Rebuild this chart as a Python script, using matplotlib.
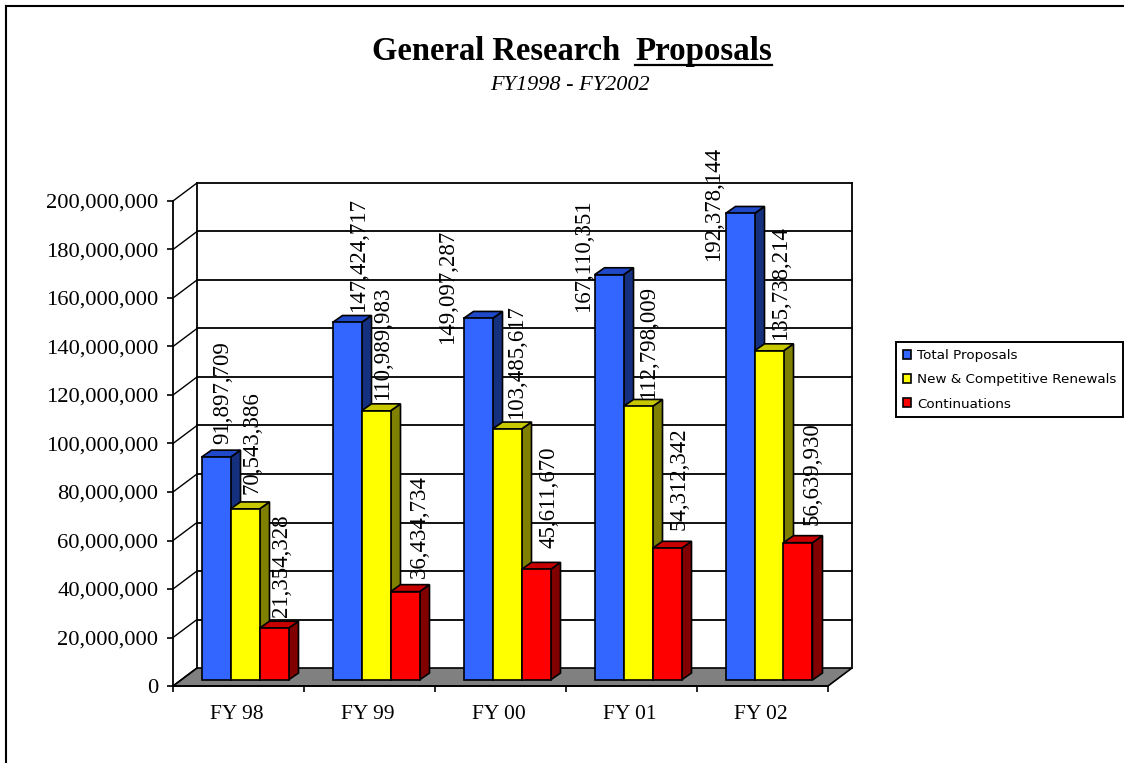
import matplotlib
matplotlib.use('Agg')
import matplotlib.pyplot as plt
from matplotlib.lines import Line2D
from matplotlib.patches import Polygon, Patch

# values
years = ['FY 98', 'FY 99', 'FY 00', 'FY 01', 'FY 02']
total = [91897709, 147424717, 149097287, 167110351, 192378144]
new_comp = [70543386, 110989983, 103485617, 112798009, 135738214]
contin = [21354328, 36434734, 45611670, 54312342, 56639930]
names = ['Total Proposals', 'New & Competitive Renewals', 'Continuations']
yticks = list(range(0, 200000001, 20000000))

W, H = 1124, 763
fig = plt.figure(figsize=(W / 100, H / 100), dpi=100, facecolor='white')

# plot box is the front plane of the old 3d excel chart
L, R, B, T = 173, 828, 686, 201
ax = fig.add_axes([L / W, 1 - B / H, (R - L) / W, (B - T) / H])
ax.set_xlim(0, 5)
ax.set_ylim(0, 200000000)

SERIF = 'Liberation Serif'
xu = 5 / (R - L)  # data units per pixel
yu = 200000000 / (B - T)

# depth of the walls and of the bars, pixels
wall_x, wall_y = 24 * xu, 18 * yu
bar_dx, bar_dy = 10 * xu, 7 * yu
bar_w = 29 * xu
bar_start = 28.5 * xu
base = 6 * yu

# floor
ax.add_patch(Polygon([(0, 0), (wall_x, wall_y), (5 + wall_x, wall_y), (5, 0)],
                     fc='#808080', ec='black', lw=1.2, clip_on=False, zorder=1))
# back wall + left wall lines
for v in yticks:
    if v > 0:
        ax.plot([wall_x, 5 + wall_x], [v + wall_y, v + wall_y], color='black', lw=1.3, clip_on=False, zorder=1)
    ax.plot([0, wall_x], [v, v + wall_y], color='black', lw=1, clip_on=False, zorder=1)
ax.plot([wall_x, wall_x], [wall_y, 200000000 + wall_y], color='black', lw=1.3, clip_on=False, zorder=1)
ax.plot([5 + wall_x, 5 + wall_x], [wall_y, 200000000 + wall_y], color='black', lw=1.3, clip_on=False, zorder=1)

series = [total, new_comp, contin]
front = ['#3366FF', '#FFFF00', '#FF0000']
top_c = ['#1F49C8', '#C8C800', '#C80000']
side = ['#163080', '#808000', '#800000']

z = 2
for i in range(len(years)):
    for s in range(3):
        x0 = i + bar_start + s * bar_w
        x1 = x0 + bar_w
        b = base
        t = base + series[s][i]
        ax.bar(x0, series[s][i], width=bar_w, bottom=b, align='edge', color=front[s],
               edgecolor='black', lw=1.2, clip_on=False, zorder=z + 1)
        ax.add_patch(Polygon([(x1, b), (x1 + bar_dx, b + bar_dy), (x1 + bar_dx, t + bar_dy), (x1, t)],
                             fc=side[s], ec='black', lw=1.2, clip_on=False, zorder=z))
        ax.add_patch(Polygon([(x0, t), (x1, t), (x1 + bar_dx, t + bar_dy), (x0 + bar_dx, t + bar_dy)],
                             fc=top_c[s], ec='black', lw=1.2, clip_on=False, zorder=z))
        z += 2

# excel placed the labels by hand-ish, offsets in pixels from the bar top
lab_dx = [[7, 12, -30, -25, -26], [7, 7, 10, 11, 12], [8, 14, 13, 12, 14]]
lab_dy = [[13, 10, -26, -37, -48], [15, 11, 10, 7, 11], [11, 14, 21, 18, 18]]
for s in range(3):
    for i in range(len(years)):
        xc = i + bar_start + (s + 0.5) * bar_w
        ax.annotate(f'{series[s][i]:,}', (xc, base + series[s][i]),
                    xytext=(lab_dx[s][i], lab_dy[s][i]), textcoords='offset pixels',
                    rotation=90, ha='center', va='bottom', family=SERIF, fontsize=16.5,
                    color='black', annotation_clip=False, zorder=100)

for sp in ['top', 'right']:
    ax.spines[sp].set_visible(False)
ax.patch.set_visible(False)
ax.spines['left'].set_linewidth(1.3)
ax.spines['bottom'].set_linewidth(1.3)
ax.set_yticks(yticks)
ax.set_yticklabels([f'{v:,}' for v in yticks], family=SERIF, fontsize=16.2)
ax.set_xticks(range(6))
ax.set_xticklabels([])
ax.set_xticks([i + 0.49 for i in range(5)], years, minor=True, family=SERIF, fontsize=15.5)
ax.tick_params(axis='x', which='minor', length=0, pad=13.5)
ax.tick_params(axis='both', which='major', length=4.5, width=1.2)
ax.tick_params(axis='y', pad=6)

# title with only the last word underlined
fig.text(372 / W, 1 - 60 / H, 'General Research', family=SERIF, fontweight='bold', fontsize=23.5, ha='left', va='baseline')
fig.canvas.draw()
r = fig.canvas.get_renderer()
t2 = fig.text(635 / W, 1 - 60 / H, 'Proposals', family=SERIF, fontweight='bold', fontsize=23.8, ha='left', va='baseline')
ext = t2.get_window_extent(r)
fig.add_artist(Line2D([ext.x0 / W, ext.x1 / W], [1 - 64.5 / H, 1 - 64.5 / H], color='black', lw=1.6))
fig.text(570 / W, 1 - 86 / H, 'FY1998 - FY2002', family=SERIF, style='italic', fontsize=16, ha='center', va='center')

# page border from the screenshot
fig.add_artist(Line2D([6 / W, 6 / W], [0, 1 - 6 / H], color='black', lw=1.5))
fig.add_artist(Line2D([6 / W, 1], [1 - 6 / H, 1 - 6 / H], color='black', lw=1.5))

handles = [Patch(fc=front[k], ec='black', lw=1.2) for k in range(3)]
leg = fig.legend(handles, names, loc='upper left', bbox_to_anchor=(896 / W, 1 - 342 / H),
                 bbox_transform=fig.transFigure, borderaxespad=0, fancybox=False, framealpha=1,
                 edgecolor='black', prop={'family': 'DejaVu Sans', 'size': 9.7},
                 handlelength=0.65, handleheight=0.65, handletextpad=0.4,
                 labelspacing=0.85, borderpad=0.5)
leg.get_frame().set_linewidth(1.4)

fig.savefig('out.png', dpi=100)
